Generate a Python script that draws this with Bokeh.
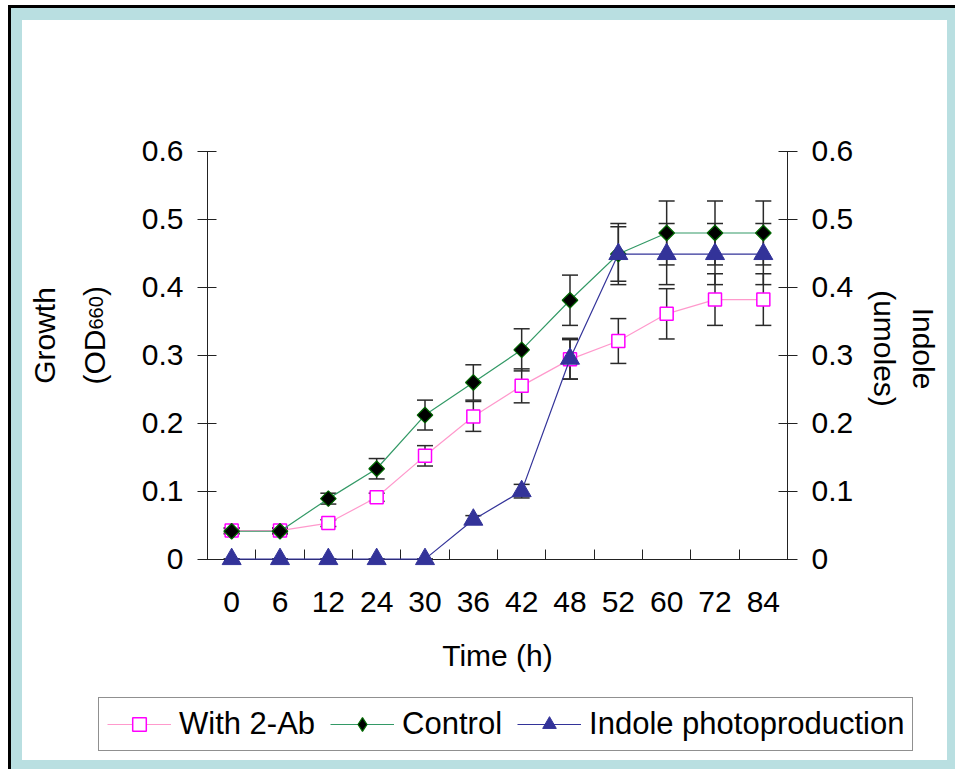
import math
from bokeh.plotting import figure
from bokeh.models import (ColumnDataSource, Range1d, LinearAxis, FixedTicker,
                          Whisker, TeeHead, Legend, LegendItem, Label)
from bokeh.embed import file_html
from bokeh.resources import INLINE

# ---- data ----
times = ["0", "6", "12", "24", "30", "36", "42", "48", "52", "60", "72", "84"]
with_2ab = [0.042, 0.042, 0.053, 0.091, 0.152, 0.210, 0.255, 0.294, 0.321, 0.361, 0.382, 0.382]
with_2ab_err = [0.004, 0.004, 0.005, 0.006, 0.015, 0.022, 0.025, 0.029, 0.033, 0.037, 0.038, 0.038]
control = [0.041, 0.041, 0.089, 0.133, 0.212, 0.260, 0.308, 0.381, 0.449, 0.480, 0.480, 0.480]
control_err = [0.004, 0.004, 0.008, 0.015, 0.022, 0.026, 0.031, 0.037, 0.045, 0.047, 0.047, 0.047]
indole = [0.0, 0.0, 0.0, 0.0, 0.0, 0.058, 0.100, 0.295, 0.449, 0.449, 0.449, 0.449]
indole_err = [0.0, 0.0, 0.0, 0.0, 0.0, 0.006, 0.010, 0.030, 0.040, 0.045, 0.045, 0.045]
y_ticks = [0.0, 0.1, 0.2, 0.3, 0.4, 0.5, 0.6]
y_tick_labels = ["0", "0.1", "0.2", "0.3", "0.4", "0.5", "0.6"]

FONT = "Liberation Sans"
AX = "#222222"

n = len(times)
x_pos = [i + 0.5 for i in range(n)]          # category centres
x_bounds = [float(i) for i in range(1, n)]   # category boundaries

src = ColumnDataSource(dict(
    x=x_pos,
    ab=with_2ab,
    ab_lo=[v - e for v, e in zip(with_2ab, with_2ab_err)],
    ab_hi=[v + e for v, e in zip(with_2ab, with_2ab_err)],
    ct=control,
    ct_lo=[v - e for v, e in zip(control, control_err)],
    ct_hi=[v + e for v, e in zip(control, control_err)],
    ind=indole,
    ind_lo=[v - e for v, e in zip(indole, indole_err)],
    ind_hi=[v + e for v, e in zip(indole, indole_err)],
))

W, H = 955, 769
# frame fills the canvas; the data box sits at px 207..787 (x), 151..559 (y)
PX_X = 580 / n
PX_Y = 679.4
x0_px, y0_px = 207, 558.6
x_range = Range1d(-x0_px / PX_X, (W - x0_px) / PX_X)
y_range = Range1d((y0_px - H) / PX_Y, y0_px / PX_Y)

p = figure(x_range=x_range, y_range=y_range, width=W, height=H,
           output_backend="svg", toolbar_location=None, title=None,
           x_axis_type=None, y_axis_type=None,
           min_border=0, min_border_left=0, min_border_right=0,
           min_border_top=0, min_border_bottom=0)
p.extra_y_ranges = {"indole": Range1d((y0_px - H) / PX_Y, y0_px / PX_Y)}
p.outline_line_color = None
p.background_fill_color = None
p.border_fill_color = None
p.grid.visible = False
p.styles = {
    "background-color": "#ffffff",
    "box-shadow": ("inset 8px 5px 0 0 #ffffff, inset 11px 8px 0 0 #000000, "
                   "inset 22px 20px 0 0 #B9DFE1, inset -8px -9px 0 0 #B9DFE1"),
}


def style_y(ax):
    ax.ticker = FixedTicker(ticks=y_ticks)
    ax.major_label_overrides = dict(zip(y_ticks, y_tick_labels))
    ax.bounds = (0, 0.6)
    ax.axis_line_color = AX
    ax.major_tick_line_color = AX
    ax.major_tick_in = 9
    ax.major_tick_out = 10
    ax.minor_tick_line_color = None
    ax.major_label_text_font = FONT
    ax.major_label_text_font_size = "30px"
    ax.major_label_text_color = "black"
    ax.major_label_standoff = 14


left_axis = LinearAxis(fixed_location=0)
style_y(left_axis)
p.add_layout(left_axis, "left")

right_axis = LinearAxis(y_range_name="indole", fixed_location=n)
style_y(right_axis)
p.add_layout(right_axis, "right")

x_axis = LinearAxis(fixed_location=0, level="underlay")
x_axis.ticker = FixedTicker(ticks=x_pos, minor_ticks=x_bounds)
x_axis.major_label_overrides = dict(zip(x_pos, times))
x_axis.bounds = (0, n)
x_axis.axis_line_color = AX
x_axis.major_tick_line_color = None
x_axis.major_tick_in = 0
x_axis.major_tick_out = 0
x_axis.minor_tick_line_color = AX
x_axis.minor_tick_in = 10
x_axis.minor_tick_out = 0
x_axis.major_label_text_font = FONT
x_axis.major_label_text_font_size = "30px"
x_axis.major_label_text_color = "black"
x_axis.major_label_standoff = 33
p.add_layout(x_axis, "below")


# error bars
def whisk(lo, hi, rng=None):
    kw = {}
    if rng:
        kw["y_range_name"] = rng
    w = Whisker(source=src, base="x", lower=lo, upper=hi, line_color="#2a2a2a", line_width=1.5,
                upper_head=TeeHead(size=16, line_color="#2a2a2a", line_width=1.5),
                lower_head=TeeHead(size=16, line_color="#2a2a2a", line_width=1.5), **kw)
    p.add_layout(w)


whisk("ab_lo", "ab_hi")
whisk("ct_lo", "ct_hi")
whisk("ind_lo", "ind_hi", "indole")

# series
l_ab = p.line("x", "ab", source=src, line_color="#FF99CC", line_width=1.2)
m_ab = p.scatter("x", "ab", source=src, marker="square", size=13, fill_color="white",
                 line_color="#FF00FF", line_width=1.5)
l_ct = p.line("x", "ct", source=src, line_color="#339966", line_width=1.2)
# diamond-marker renderer (used for the legend key; lies under the rotated squares)
m_ct_key = p.scatter("x", "ct", source=src, marker="diamond", size=13, fill_color="black",
                     line_color="#006600", line_width=1.2)
m_ct = p.scatter("x", "ct", source=src, marker="square", angle=math.pi / 4, size=11,
                 fill_color="black", line_color="#006600", line_width=1.2)
l_in = p.line("x", "ind", source=src, line_color="#333399", line_width=1.2, y_range_name="indole")
m_in = p.scatter("x", "ind", source=src, marker="triangle", size=19, fill_color="#333399",
                 line_color="#333399", y_range_name="indole")

legend = Legend(items=[
    LegendItem(label="With 2-Ab", renderers=[l_ab, m_ab]),
    LegendItem(label="Control", renderers=[l_ct, m_ct_key]),
    LegendItem(label="Indole photoproduction", renderers=[l_in, m_in]),
], orientation="horizontal", location=(98, 18), glyph_width=64, glyph_height=34,
   label_height=34, label_standoff=8, spacing=15, padding=8, margin=0,
   label_text_font=FONT, label_text_font_size="31px", label_text_color="black",
   border_line_color="#222222", border_line_width=1, background_fill_color="white",
   background_fill_alpha=1.0)
p.add_layout(legend, "center")


def px_x(px):
    return (px - x0_px) / PX_X


def px_y(py):
    return (y0_px - py) / PX_Y


def lab(x, y, text, angle=0.0, size="30px", align="center", baseline="middle"):
    p.add_layout(Label(x=x, y=y, text=text, angle=angle, text_font=FONT, text_font_size=size,
                       text_align=align, text_baseline=baseline, text_color="black"))


lab(px_x(44), px_y(335), "Growth", angle=math.pi / 2)
lab(px_x(94), px_y(384), "(OD", angle=math.pi / 2, align="left")
lab(px_x(95), px_y(329), "660", angle=math.pi / 2, size="20px", align="left")
lab(px_x(94), px_y(295.6), ")", angle=math.pi / 2, align="left")
lab(px_x(923), px_y(348), "Indole", angle=-math.pi / 2)
lab(px_x(884), px_y(348), "(umoles)", angle=-math.pi / 2)
lab(px_x(497), px_y(655), "Time (h)")

open("out.html", "w").write(file_html(p, INLINE))
